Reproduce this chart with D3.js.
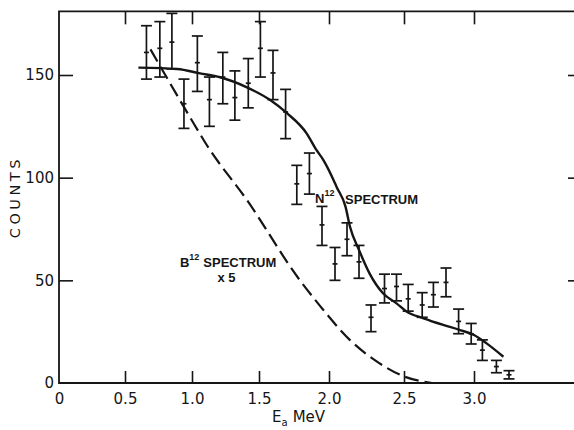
<!DOCTYPE html>
<html>
<head>
<meta charset="utf-8">
<title>N12 / B12 spectrum</title>
<script src="https://d3js.org/d3.v7.min.js"></script>
<style>
  body { margin: 0; background: #fff; }
  svg { display: block; }
</style>
</head>
<body>
<svg id="chart"></svg>
<script>
// measured points (energy in MeV, counts with error bar ends)
const energy = [0.66, 0.76, 0.85, 0.94, 1.04, 1.13, 1.23, 1.32, 1.42, 1.51,
                1.60, 1.69, 1.77, 1.86, 1.95, 2.04, 2.12, 2.20, 2.28, 2.37,
                2.45, 2.53, 2.63, 2.71, 2.80, 2.89, 2.98, 3.06, 3.16, 3.25];
const counts = [161, 163, 166, 136, 156, 138, 149, 139, 146, 163,
                151, 132, 97, 102, 77, 58, 70, 59, 32, 46,
                47, 41, 38, 43, 49, 30, 24, 16, 8, 4];
const countsLow = [148, 149, 153, 124, 142, 125, 136, 128, 134, 149,
                   138, 119, 87, 92, 67, 50, 62, 51, 25, 39,
                   40, 35, 32, 37, 42, 24, 19, 11, 5, 2];
const countsHigh = [174, 176, 180, 148, 169, 149, 161, 152, 158, 176,
                    162, 143, 106, 112, 86, 66, 78, 67, 38, 53,
                    53, 48, 44, 49, 56, 36, 29, 21, 11, 6];

// N12 spectrum (solid curve)
const n12Energy = [0.60, 0.89, 1.06, 1.21, 1.41, 1.58, 1.70, 1.84, 1.91, 1.96,
                   2.03, 2.05, 2.11, 2.14, 2.20, 2.27, 2.36, 2.45, 2.52, 2.64,
                   2.78, 2.90, 3.00, 3.09, 3.21];
const n12Counts = [153.6, 152.9, 150.8, 148.9, 144, 137.8, 131.4, 121.6, 113.5, 108.6,
                   98.9, 95.6, 85.9, 76.1, 64.8, 53.4, 43.7, 38.8, 34.7, 31.5,
                   28.3, 25.8, 23.4, 19.3, 12.8];

// B12 spectrum x5 (dashed curve)
const b12Energy = [0.69, 0.99, 1.11, 1.41, 1.79, 1.94, 2.14, 2.32, 2.50, 2.70];
const b12Counts = [162.5, 128.9, 115.9, 89.1, 50.2, 37.2, 20.9, 10.4, 3.2, 0];

const xTicks = [0, 0.5, 1.0, 1.5, 2.0, 2.5, 3.0];
const yTicks = [0, 50, 100, 150];
const yMax = 181;

const width = 574, height = 430;
const svg = d3.select("#chart").attr("width", width).attr("height", height);

// the hand-drawn axis has uneven tick spacing, so use a piecewise scale
const x = d3.scaleLinear().domain(xTicks).range([59, 125, 192, 259, 329, 404, 474]);
const y = d3.scaleLinear().domain([0, 150]).range([383, 75]);
const xRight = 576;

const ink = "#151515";
const tickFont = "DejaVu Sans, sans-serif";

// frame
svg.append("path")
  .attr("d", `M${xRight},${y(yMax)}H${x(0)}V${y(0)}H${xRight}`)
  .attr("fill", "none").attr("stroke", ink).attr("stroke-width", 1.8);

// bottom axis
const gx = svg.append("g")
  .attr("transform", `translate(0,${y(0)})`)
  .call(d3.axisBottom(x).tickValues(xTicks).tickSize(-12).tickPadding(10)
    .tickFormat(d => d === 0 ? "0" : d3.format(".1f")(d)));
gx.select(".domain").remove();
gx.selectAll(".tick line").attr("stroke", ink).attr("stroke-width", 1.6)
  .filter(d => d === 0).remove();
gx.selectAll("text").attr("fill", ink).style("font-family", tickFont).style("font-size", "15px");

// top axis (ticks only)
const gt = svg.append("g")
  .attr("transform", `translate(0,${y(yMax)})`)
  .call(d3.axisTop(x).tickValues(xTicks.slice(1)).tickSize(-13).tickFormat(""));
gt.select(".domain").remove();
gt.selectAll(".tick line").attr("stroke", ink).attr("stroke-width", 1.6);

// left axis
const gy = svg.append("g")
  .attr("transform", `translate(${x(0)},0)`)
  .call(d3.axisLeft(y).tickValues(yTicks).tickSize(-14).tickPadding(5));
gy.select(".domain").remove();
gy.selectAll(".tick line").attr("stroke", ink).attr("stroke-width", 1.6)
  .filter(d => d === 0).remove();
gy.selectAll("text").attr("fill", ink).style("font-family", tickFont).style("font-size", "15px");

// right axis (ticks only)
const gr = svg.append("g")
  .attr("transform", `translate(${xRight},0)`)
  .call(d3.axisRight(y).tickValues(yTicks.slice(1)).tickSize(-8).tickFormat(""));
gr.select(".domain").remove();
gr.selectAll(".tick line").attr("stroke", ink).attr("stroke-width", 1.6);

// axis titles
svg.append("text")
  .attr("transform", `translate(20,${(y(0) + y(yMax)) / 2}) rotate(-90)`)
  .attr("text-anchor", "middle")
  .attr("fill", ink)
  .style("font-family", tickFont).style("font-size", "14.5px").style("letter-spacing", "3.5px")
  .text("COUNTS");

const xt = svg.append("text")
  .attr("x", 272).attr("y", 422)
  .attr("fill", ink)
  .style("font-family", tickFont).style("font-size", "15px");
xt.append("tspan").text("E");
xt.append("tspan").attr("dy", 4).style("font-size", "10px").text("a");
xt.append("tspan").attr("dy", -4).attr("dx", 5).text("MeV");

// curves
const n12 = n12Energy.map((e, i) => [e, n12Counts[i]]);
const b12 = b12Energy.map((e, i) => [e, b12Counts[i]]);
const line = d3.line().x(d => x(d[0])).y(d => y(d[1])).curve(d3.curveMonotoneX);

svg.append("path").datum(n12).attr("d", line)
  .attr("fill", "none").attr("stroke", ink).attr("stroke-width", 2.4);

svg.append("path").datum(b12).attr("d", line)
  .attr("fill", "none").attr("stroke", ink).attr("stroke-width", 2.2)
  .attr("stroke-dasharray", "14 6");

// error bars
const bars = svg.append("g").attr("stroke", ink).attr("stroke-width", 1.7)
  .selectAll("g").data(energy.map((e, i) => ({ e, c: counts[i], lo: countsLow[i], hi: countsHigh[i] })))
  .join("g");
const cap = 5.5;
bars.append("line")
  .attr("x1", d => x(d.e)).attr("x2", d => x(d.e))
  .attr("y1", d => y(d.lo)).attr("y2", d => y(d.hi));
bars.append("line")
  .attr("x1", d => x(d.e) - cap).attr("x2", d => x(d.e) + cap)
  .attr("y1", d => y(d.lo)).attr("y2", d => y(d.lo));
bars.append("line")
  .attr("x1", d => x(d.e) - cap).attr("x2", d => x(d.e) + cap)
  .attr("y1", d => y(d.hi)).attr("y2", d => y(d.hi));
bars.append("line")
  .attr("x1", d => x(d.e) - 2.5).attr("x2", d => x(d.e) + 2.5)
  .attr("y1", d => y(d.c)).attr("y2", d => y(d.c));

// curve labels
const labelFont = "Liberation Sans, Arial, sans-serif";
const nLab = svg.append("text")
  .attr("x", x(1.9)).attr("y", y(87.7))
  .attr("fill", ink)
  .style("font-family", labelFont).style("font-weight", "bold").style("font-size", "13px");
nLab.append("tspan").text("N");
nLab.append("tspan").attr("dy", -7).style("font-size", "9px").text("12");

svg.append("text")
  .attr("x", x(2.107)).attr("y", y(87.2))
  .attr("fill", ink)
  .style("font-family", labelFont).style("font-weight", "bold").style("font-size", "13px")
  .text("SPECTRUM");

const bLab = svg.append("text")
  .attr("x", x(0.91)).attr("y", y(56.5))
  .attr("fill", ink)
  .style("font-family", labelFont).style("font-weight", "bold").style("font-size", "13px");
bLab.append("tspan").text("B");
bLab.append("tspan").attr("dy", -7).style("font-size", "9px").text("12");
bLab.append("tspan").attr("dy", 7).attr("dx", 4).text("SPECTRUM");

svg.append("text")
  .attr("x", x(1.19)).attr("y", y(49.2))
  .attr("fill", ink)
  .style("font-family", labelFont).style("font-weight", "bold").style("font-size", "13px")
  .text("x 5");
</script>
</body>
</html>
